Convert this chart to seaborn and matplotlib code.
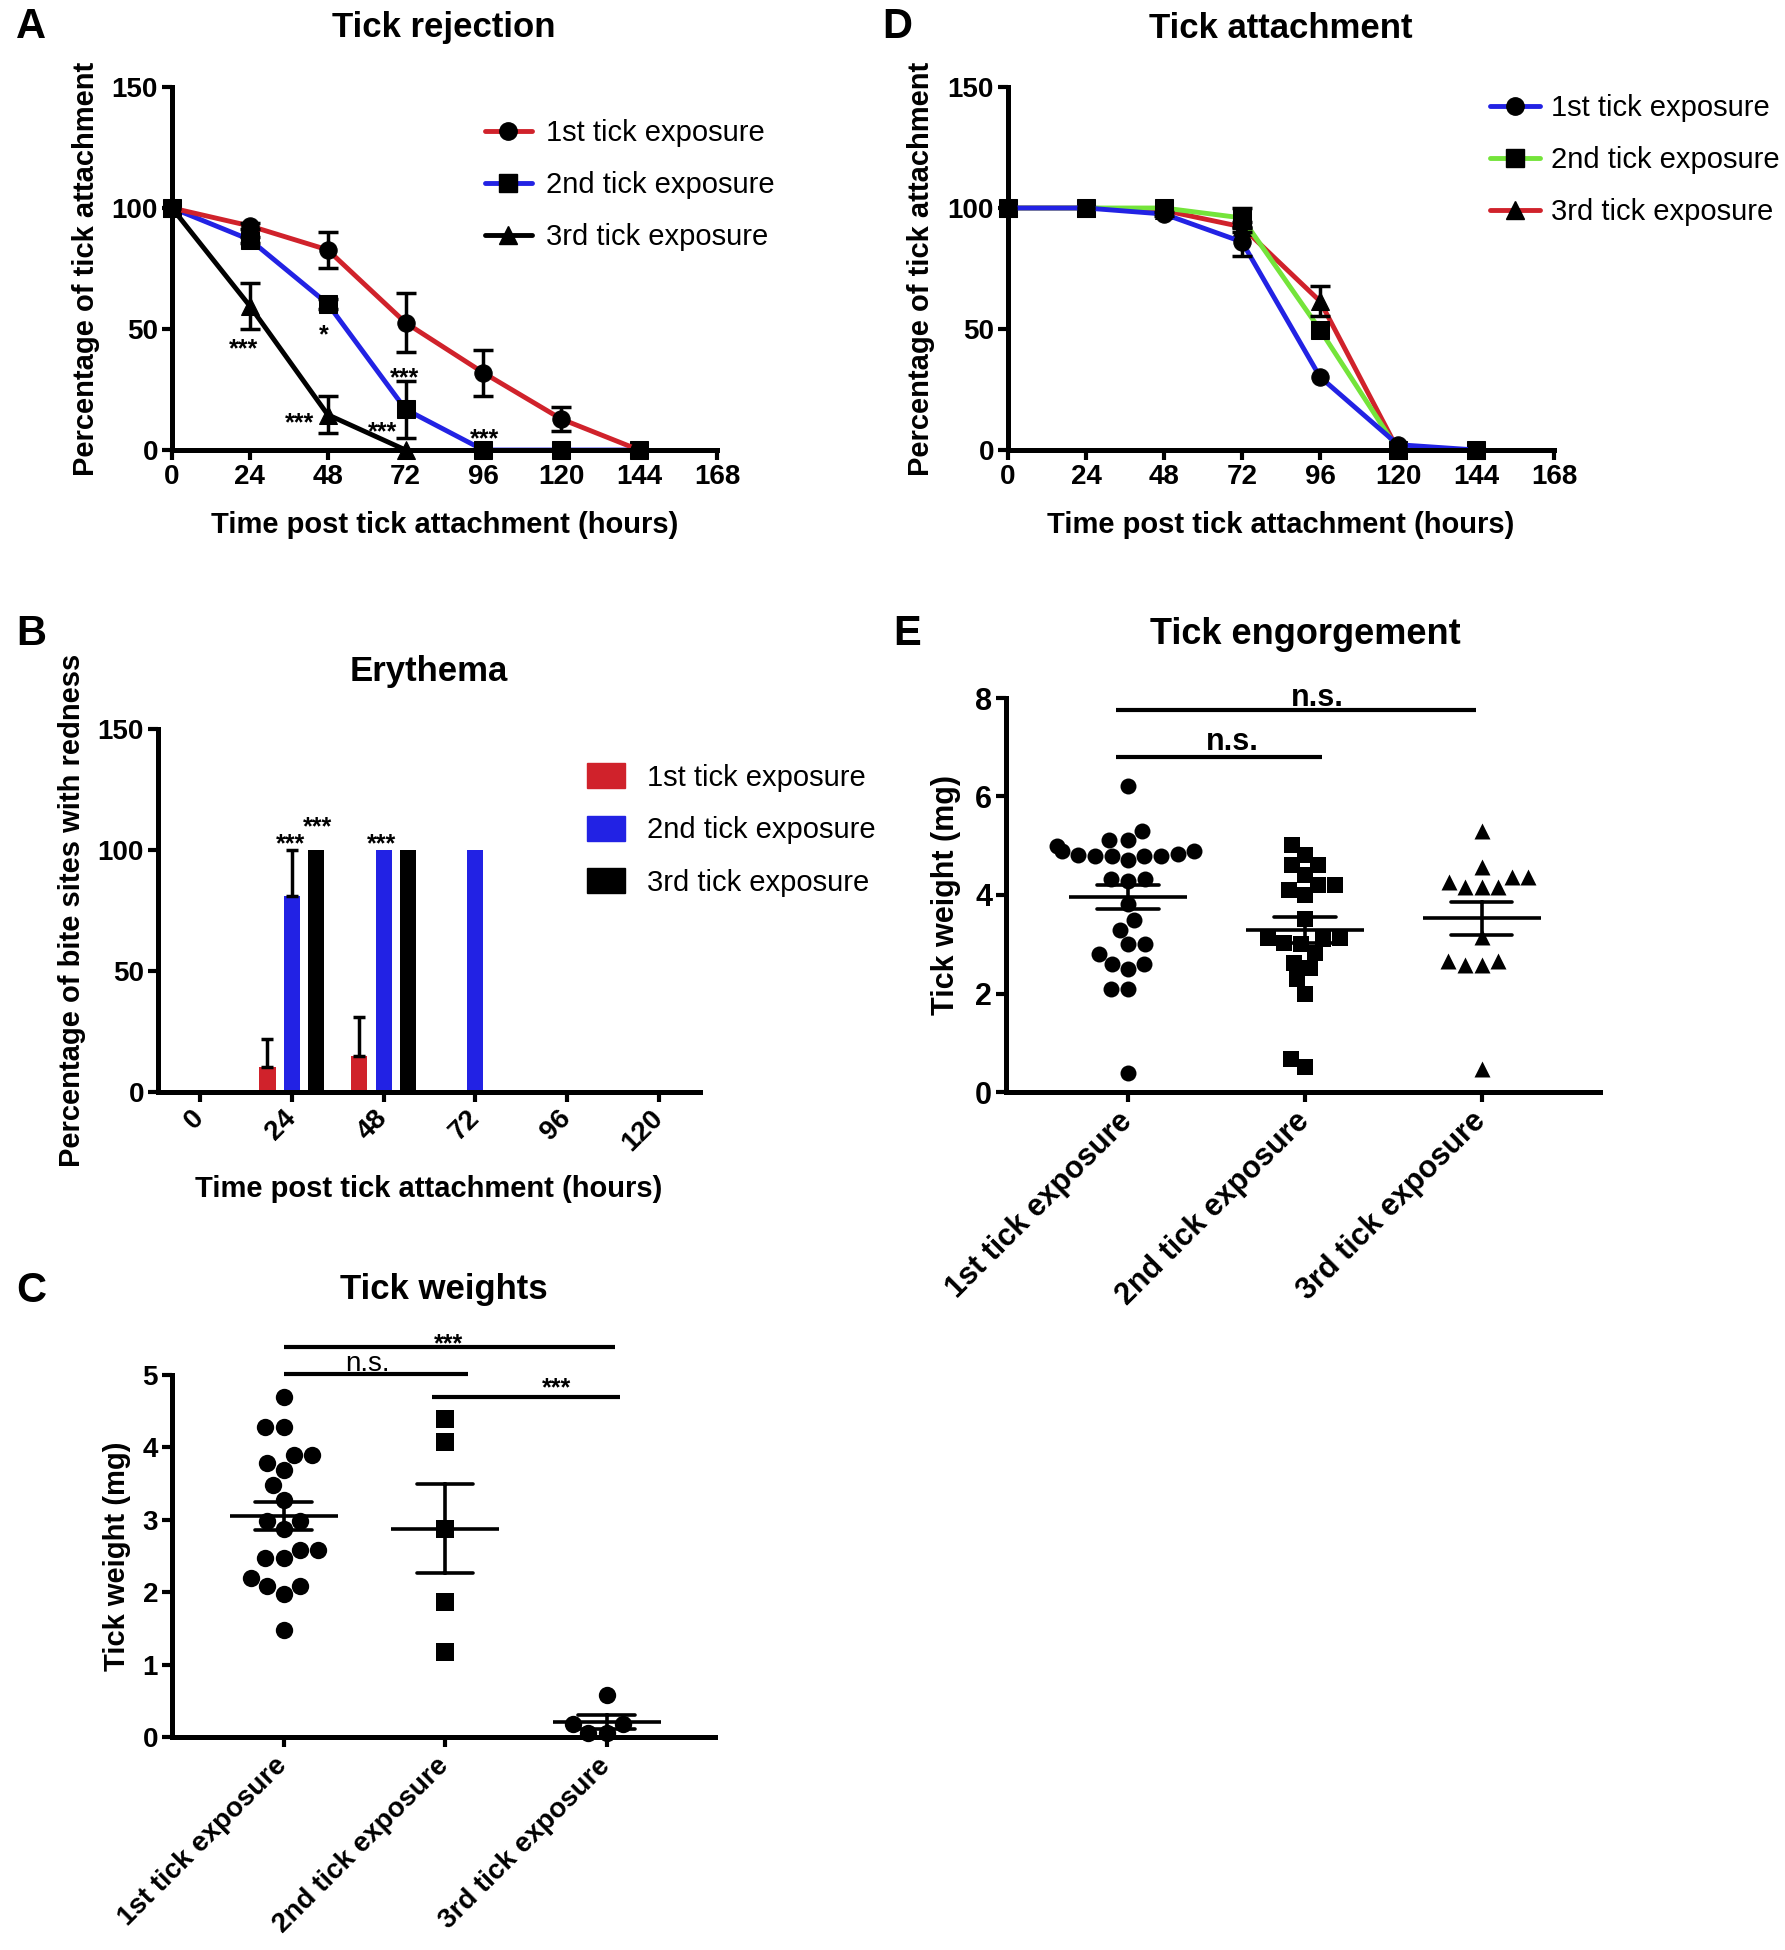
import numpy as np
import pandas as pd
import matplotlib
matplotlib.use("Agg")
import matplotlib.pyplot as plt
from matplotlib.lines import Line2D
from matplotlib.patches import Patch
import seaborn as sns

# exposure groups
groups = ["1st tick exposure", "2nd tick exposure", "3rd tick exposure"]

# A - tick rejection: % of ticks attached (mean, SEM)
hours = [0, 24, 48, 72, 96, 120, 144]
rej_1st = [100, 92.6, 82.7, 52.6, 31.9, 12.8, 0]
rej_1st_sem = [0, 1.2, 7.4, 12.2, 9.6, 4.9, 0]
rej_2nd = [100, 86.9, 60.4, 16.8, 0, 0, 0]
rej_2nd_sem = [0, 1.2, 2.2, 11.8, 0, 0, 0]
rej_3rd = [100, 59.5, 14.6, 0, np.nan, np.nan, np.nan]
rej_3rd_sem = [0, 9.4, 7.6, 0, 0, 0, 0]
rej_sig = [("***", 22, 44.5), ("*", 46.8, 50.3), ("***", 71.6, 32.7),
           ("***", 39.4, 14.3), ("***", 64.9, 10.6), ("***", 96.4, 7.7)]

# D - tick attachment
att_1st = [100, 100, 97.5, 86.0, 30.2, 2.2, 0]
att_1st_sem = [0, 0, 1.0, 6.0, 0, 0, 0]
att_2nd = [100, 100, 100, 95.9, 49.7, 0, 0]
att_2nd_sem = [0, 0, 0, 4.0, 0, 0, 0]
att_3rd = [100, 100, 99.0, 92.2, 61.5, 0, 0]
att_3rd_sem = [0, 0, 0, 2.0, 6.2, 0, 0]

# B - erythema: % of bite sites with redness
ery_hours = ["0", "24", "48", "72", "96", "120"]
ery_1st = [0, 10.5, 15, 0, 0, 0]
ery_1st_sem = [0, 11.5, 16, 0, 0, 0]
ery_2nd = [0, 81, 100, 100, 0, 0]
ery_2nd_sem = [0, 19, 0, 0, 0, 0]
ery_3rd = [0, 100, 100, 0, 0, 0]
ery_3rd_sem = [0, 0, 0, 0, 0, 0]
ery_sig = [("***", 0.98, 105.5), ("***", 1.28, 112.6), ("***", 1.98, 105.5)]

# C - tick weights (mg)
wt_1st = [4.69, 4.28, 4.28, 3.89, 3.78, 3.69, 3.89, 3.48, 3.28, 2.98, 2.87,
          2.98, 2.58, 2.47, 2.47, 2.58, 2.19, 2.08, 1.97, 2.08, 1.48]
wt_2nd = [4.39, 4.07, 2.87, 1.87, 1.18]
wt_3rd = [0.58, 0.18, 0.18, 0.06, 0.06]
# brackets: x1, x2, y, label, label x, label y
wt_sig = [(0.0, 2.05, 5.38, "***", 1.02, 5.53),
          (0.0, 1.14, 5.01, "n.s.", 0.52, 5.16),
          (0.92, 2.08, 4.70, "***", 1.69, 4.92)]

# E - tick engorgement (mg)
eng_1st = [6.21, 5.30, 5.12, 5.12, 5.00, 4.90, 4.84, 4.80, 4.80, 4.80, 4.80,
           4.82, 4.90, 4.71, 4.32, 4.32, 4.29, 3.82, 3.49, 3.29, 3.00, 3.00,
           2.80, 2.60, 2.49, 2.60, 2.09, 2.09, 0.38]
eng_2nd = [5.02, 4.81, 4.61, 4.61, 4.41, 4.20, 4.20, 4.10, 4.00, 3.51, 3.12,
           3.12, 3.10, 3.02, 3.00, 2.82, 2.61, 2.51, 2.29, 2.00, 0.68, 0.50]
eng_3rd = [5.29, 4.37, 4.27, 4.17, 4.17, 4.17, 4.37, 4.56, 3.15, 2.65, 2.58,
           2.58, 2.65, 0.46]
eng_sig = [(-0.07, 1.97, 7.75, "n.s.", 1.07, 8.0),
           (-0.07, 1.10, 6.80, "n.s.", 0.59, 7.11)]

RED = "#D0222B"
BLUE = "#2222E4"
GREEN = "#74E43A"
markers = dict(zip(groups, ["o", "s", "^"]))

sns.set_style("ticks", {"axes.edgecolor": "black", "xtick.color": "black",
                        "ytick.color": "black", "text.color": "black",
                        "axes.labelcolor": "black"})
plt.rcParams["font.family"] = ["Liberation Sans", "DejaVu Sans"]
plt.rcParams["font.weight"] = "bold"
plt.rcParams["axes.labelweight"] = "bold"

fig = plt.figure(figsize=(17.85, 19.5), dpi=100)
W, H = 1785.0, 1950.0


def add_ax(x0, y0, x1, y1):
    return fig.add_axes([x0 / W, 1 - y1 / H, (x1 - x0) / W, (y1 - y0) / H])


def style(ax, fs=20):
    sns.despine(ax=ax)
    for s in ["left", "bottom"]:
        ax.spines[s].set_linewidth(3.6)
    ax.tick_params(width=3, length=7, labelsize=fs, pad=3)


def rotate_labels(ax, pad):
    ax.tick_params(axis="x", pad=pad)
    for lab in ax.get_xticklabels():
        lab.set_rotation(45)
        lab.set_ha("right")
        lab.set_va("center")
        lab.set_rotation_mode("anchor")


def mark(ax, text, x, y, fs=18, dy=0.58, weight="bold"):
    ax.annotate(text, (x, y), xytext=(0, -dy * fs), textcoords="offset points",
                ha="center", va="baseline", fontsize=fs, fontweight=weight,
                annotation_clip=False)


def panel_text(x, y, s, size):
    fig.text(x / W, 1 - y / H, s, ha="center", va="center", fontsize=size,
             fontweight="bold")


def line_panel(ax, series, sems, palette, sig):
    df = pd.DataFrame({"hour": hours * 3, "pct": sum(series, []),
                       "group": np.repeat(groups, len(hours))})
    sns.lineplot(data=df, x="hour", y="pct", hue="group", style="group",
                 hue_order=groups[::-1], palette=palette, markers=markers,
                 dashes=False, errorbar=None, linewidth=3.5, markersize=12.5,
                 mfc="black", mec="black", legend=False, ax=ax)
    for ln in ax.lines:
        ln.set_clip_on(False)
    for vals, err in zip(series, sems):
        idx = [i for i, e in enumerate(err) if e > 0]
        ax.errorbar([hours[i] for i in idx], [vals[i] for i in idx],
                    yerr=[err[i] for i in idx], fmt="none", ecolor="black",
                    elinewidth=2.5, capsize=7, capthick=2.5, zorder=4)
    for txt, x, y in sig:
        mark(ax, txt, x, y)
    ax.set_xlim(0, 168)
    ax.set_ylim(0, 150)
    ax.set_xticks(range(0, 169, 24))
    ax.set_yticks([0, 50, 100, 150])
    ax.set_xlabel("Time post tick attachment (hours)", fontsize=21)
    ax.set_ylabel("Percentage of tick attachment", fontsize=21)
    ax.xaxis.set_label_coords(0.5, -0.168)
    ax.yaxis.set_label_coords(-0.133, 0.5)
    style(ax)
    handles = [Line2D([], [], color=palette[g], marker=markers[g], mfc="black",
                      mec="black", lw=3.5, ms=12.5) for g in groups]
    return handles


legend_kws = dict(loc="upper left", bbox_transform=fig.transFigure,
                  frameon=False, borderpad=0, borderaxespad=0,
                  labelspacing=0.82, prop={"size": 21, "weight": "normal"})

# ---------------- A ----------------
axA = add_ax(172, 87, 717, 450)
hA = line_panel(axA, [rej_1st, rej_2nd, rej_3rd],
                [rej_1st_sem, rej_2nd_sem, rej_3rd_sem],
                dict(zip(groups, [RED, BLUE, "black"])), rej_sig)
axA.legend(hA, groups, bbox_to_anchor=(485 / W, 1 - 119 / H),
           handlelength=1.6, handletextpad=0.5, **legend_kws)
panel_text(444, 28, "Tick rejection", 25)
panel_text(31, 27, "A", 30)

# ---------------- D ----------------
axD = add_ax(1008, 87, 1554, 450)
hD = line_panel(axD, [att_1st, att_2nd, att_3rd],
                [att_1st_sem, att_2nd_sem, att_3rd_sem],
                dict(zip(groups, [BLUE, GREEN, RED])), [])
axD.legend(hD, groups, bbox_to_anchor=(1490 / W, 1 - 94 / H),
           handlelength=1.7, handletextpad=0.4, **legend_kws)
panel_text(1281, 28, "Tick attachment", 25)
panel_text(897, 27, "D", 30)

# ---------------- B ----------------
axB = add_ax(158, 729, 700, 1092)
ery = pd.DataFrame({"hour": ery_hours * 3,
                    "pct": ery_1st + ery_2nd + ery_3rd,
                    "group": np.repeat(groups, len(ery_hours))})
palB = dict(zip(groups, [RED, BLUE, "black"]))
sns.barplot(data=ery, x="hour", y="pct", hue="group", order=ery_hours,
            hue_order=groups, palette=palB, width=0.8, gap=0.34,
            errorbar=None, saturation=1, linewidth=0, legend=False, ax=axB)
for cont, sems in zip(axB.containers, [ery_1st_sem, ery_2nd_sem, ery_3rd_sem]):
    for bar, s in zip(cont, sems):
        if s > 0:
            axB.errorbar(bar.get_x() + bar.get_width() / 2, bar.get_height(),
                         yerr=[[0], [s]], fmt="none", ecolor="black",
                         elinewidth=2.5, capsize=4, capthick=2.5)
for txt, x, y in ery_sig:
    mark(axB, txt, x, y)
axB.set_xlim(-0.46, 5.45)
axB.set_ylim(0, 150)
axB.set_yticks([0, 50, 100, 150])
axB.set_xlabel("Time post tick attachment (hours)", fontsize=21)
axB.set_ylabel("Percentage of bite sites with redness", fontsize=21)
axB.xaxis.set_label_coords(0.5, -0.228)
axB.yaxis.set_label_coords(-0.133, 0.5)
style(axB)
rotate_labels(axB, 9)
axB.legend([Patch(color=palB[g]) for g in groups], groups,
           bbox_to_anchor=(587 / W, 1 - 763 / H), handlelength=1.3,
           handleheight=0.95, handletextpad=0.75, **legend_kws)
panel_text(429, 671, "Erythema", 25)
panel_text(31, 634, "B", 30)


def scatter_panel(ax, data, mk, size, meanw, sig, ns_weight, fs):
    df = pd.DataFrame({"group": np.repeat(groups, [len(d) for d in data]),
                       "weight": sum(data, [])})
    for g, m in zip(groups, mk):
        sns.swarmplot(data=df[df["group"] == g], x="group", y="weight",
                      order=groups, marker=m, color="black", size=size,
                      linewidth=0, warn_thresh=1, ax=ax)
    sns.pointplot(data=df, x="group", y="weight", order=groups, errorbar="se",
                  capsize=0.35, color="black", marker="_", markersize=meanw,
                  markeredgewidth=2.6, linestyle="none", linewidth=2.6,
                  err_kws={"linewidth": 2.6}, ax=ax)
    for c in ax.collections:
        c.set_clip_on(False)
    for x1, x2, y, txt, tx, ty in sig:
        ax.plot([x1, x2], [y, y], color="black", lw=3, clip_on=False,
                solid_capstyle="butt")
        if txt == "n.s.":
            mark(ax, txt, tx, ty, fs=fs, dy=0.27, weight=ns_weight)
        else:
            mark(ax, txt, tx, ty)
    ax.set_xlim(-0.69, 2.67)
    ax.set_xlabel("")
    style(ax, fs)
    rotate_labels(ax, 11)


# ---------------- C ----------------
axC = add_ax(172, 1375, 715, 1737)
scatter_panel(axC, [wt_1st, wt_2nd, wt_3rd], ["o", "s", "o"], 12.5, 78,
              wt_sig, "normal", 20)
axC.set_ylim(0, 5)
axC.set_yticks(range(0, 6))
axC.set_ylabel("Tick weight (mg)", fontsize=21)
axC.yaxis.set_label_coords(-0.075, 0.5)
panel_text(444, 1289, "Tick weights", 25)
panel_text(31, 1291, "C", 30)

# ---------------- E ----------------
axE = add_ax(1006, 698, 1600, 1092)
scatter_panel(axE, [eng_1st, eng_2nd, eng_3rd], ["o", "s", "^"], 11.5, 85,
              eng_sig, "bold", 22)
axE.set_ylim(0, 8)
axE.set_yticks([0, 2, 4, 6, 8])
axE.set_ylabel("Tick weight (mg)", fontsize=22)
axE.yaxis.set_label_coords(-0.075, 0.5)
panel_text(1305, 634, "Tick engorgement", 26)
panel_text(907, 634, "E", 30)

fig.savefig("out.png", dpi=100)
